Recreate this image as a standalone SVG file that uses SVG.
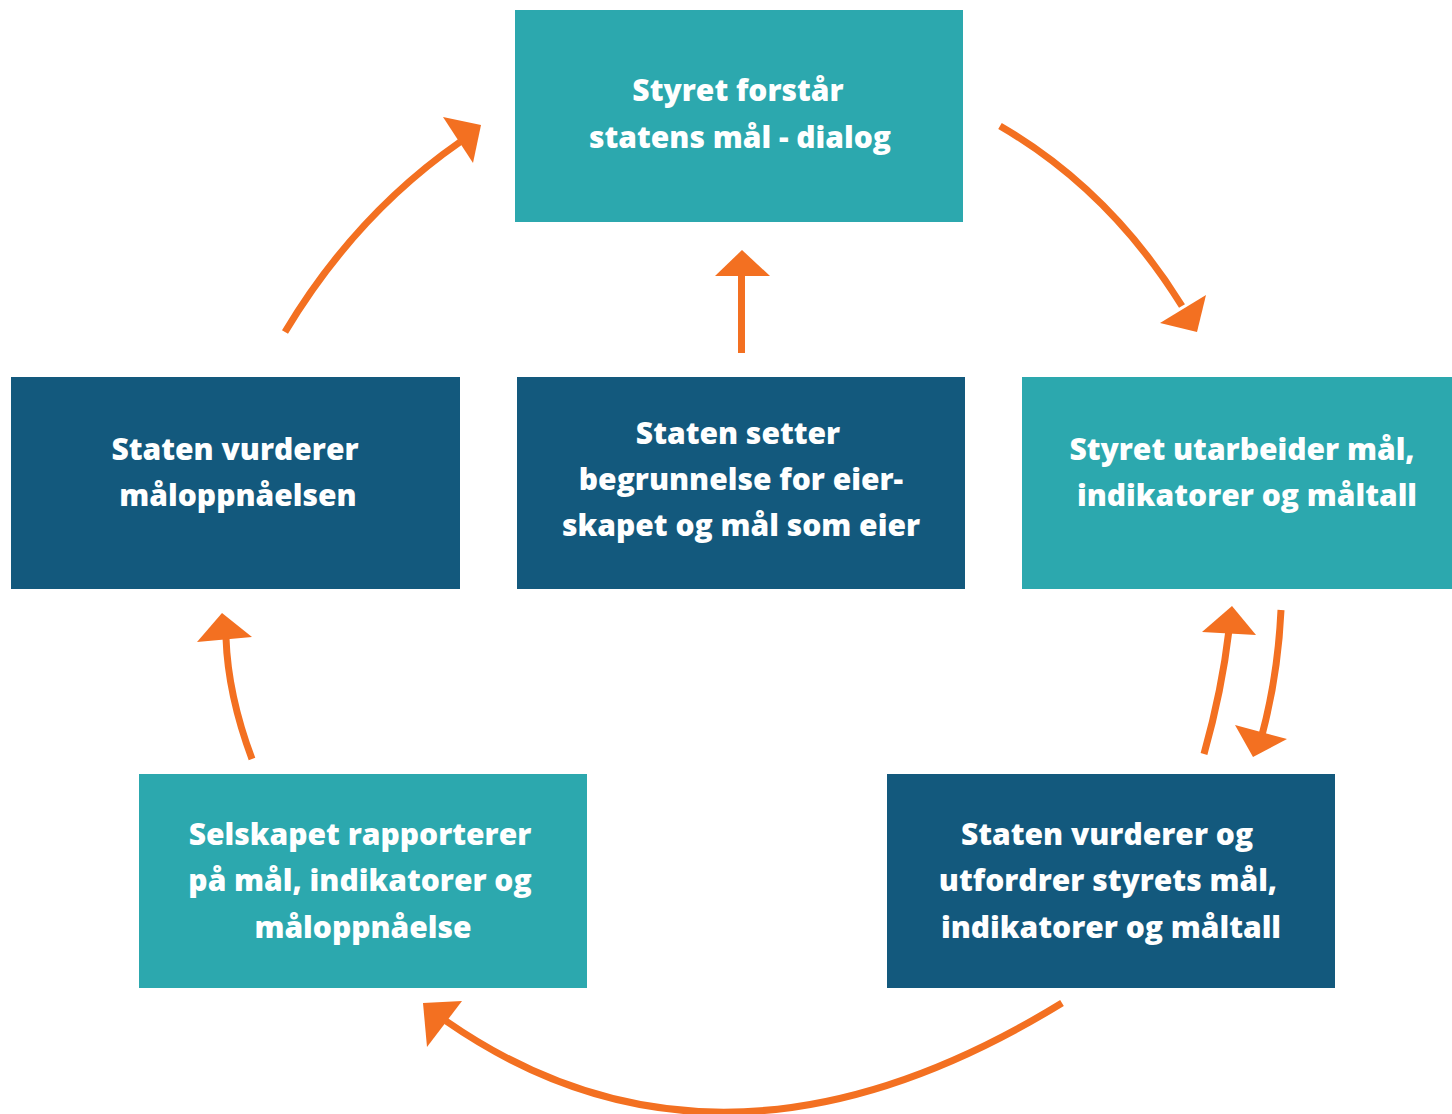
<svg xmlns="http://www.w3.org/2000/svg" width="1452" height="1114" viewBox="0 0 1452 1114">
<style>
.teal{fill:#2ca8ae}
.dark{fill:#13597d}
.t{fill:#fff;font-family:"Open Sans","Noto Sans","Liberation Sans",sans-serif;font-weight:800;font-size:30px;text-anchor:middle}
.ln{fill:none;stroke:#f37021;stroke-width:7}
.hd{fill:#f37021}
</style>
<rect width="1452" height="1114" fill="#fff"/>
<g id="n-top"><rect class="teal" x="515" y="10" width="448" height="212"/>
<text class="t" x="738" y="101">Styret forstår</text><text class="t" x="740" y="148">statens mål - dialog</text></g>
<g id="n-left"><rect class="dark" x="11" y="377" width="449" height="212"/>
<text class="t" x="235" y="460">Staten vurderer</text><text class="t" x="238" y="506">måloppnåelsen</text></g>
<g id="n-center"><rect class="dark" x="517" y="377" width="448" height="212"/>
<text class="t" x="738" y="444">Staten setter</text><text class="t" x="741" y="490">begrunnelse for eier-</text><text class="t" x="741" y="536">skapet og mål som eier</text></g>
<g id="n-right"><rect class="teal" x="1022" y="377" width="430" height="212"/>
<text class="t" x="1242" y="460">Styret utarbeider mål,</text><text class="t" x="1247" y="506">indikatorer og måltall</text></g>
<g id="n-bl"><rect class="teal" x="139" y="774" width="448" height="214"/>
<text class="t" x="360" y="845">Selskapet rapporterer</text><text class="t" x="360" y="891">på mål, indikatorer og</text><text class="t" x="363" y="938">måloppnåelse</text></g>
<g id="n-br"><rect class="dark" x="887" y="774" width="448" height="214"/>
<text class="t" x="1107" y="845">Staten vurderer og</text><text class="t" x="1108" y="891">utfordrer styrets mål,</text><text class="t" x="1111" y="938">indikatorer og måltall</text></g>
<g id="connectors">
<path class="ln" d="M285 332 Q355 215 460 142"/>
<polygon class="hd" points="481,125 443,117 473,163"/>
<path class="ln" d="M741.5 353 L741.5 272"/>
<polygon class="hd" points="742,250 715,276 770,276"/>
<path class="ln" d="M1000 126 Q1110 190 1182 306"/>
<polygon class="hd" points="1197,332 1160,323 1206,295"/>
<path class="ln" d="M1204 754 Q1222 690 1229 630"/>
<polygon class="hd" points="1232,606 1202,632 1256,635"/>
<path class="ln" d="M1281 610 Q1278 675 1262 735"/>
<polygon class="hd" points="1253,757 1235,725 1287,739"/>
<path class="ln" d="M252 759 Q228 695 226 638"/>
<polygon class="hd" points="222,613 197,642 252,637"/>
<path class="ln" d="M1062 1003 Q721 1212 446 1021"/>
<polygon class="hd" points="423,1003 462,1001 427,1047"/>
</g>
</svg>
